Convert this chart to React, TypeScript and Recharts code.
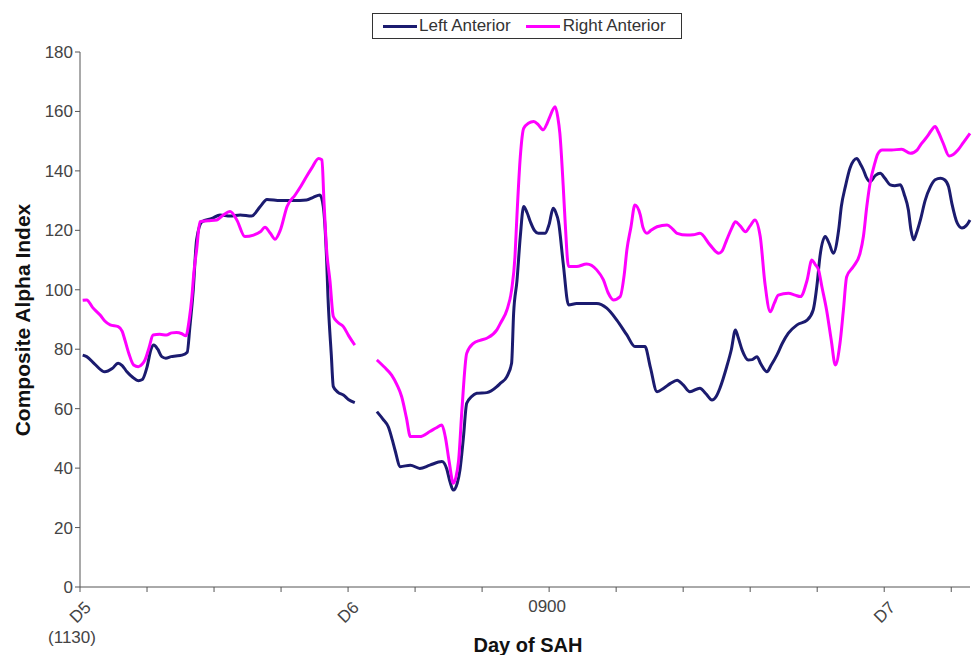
import React from "react";
import { LineChart, Line, XAxis, YAxis, Legend, Label } from "recharts";

// x is measured in axis ticks from D5 (1130)
const leftTime = [
  0.04, 0.1, 0.22, 0.37, 0.48, 0.57, 0.63, 0.7, 0.79, 0.87, 0.93, 1.0, 1.06, 1.1, 1.16, 1.22, 1.28, 1.36,
  1.43, 1.52, 1.6, 1.64, 1.69, 1.74, 1.82, 1.97, 2.09, 2.24, 2.39, 2.56, 2.69, 2.79, 2.99, 3.18, 3.38,
  3.48, 3.58, 3.63, 3.68, 3.7, 3.75, 3.78, 3.85, 3.93, 4.01, 4.1, 4.2, 4.43, 4.52, 4.6, 4.66, 4.7, 4.78,
  4.93, 5.07, 5.22, 5.4, 5.47, 5.52, 5.57, 5.63, 5.67, 5.72, 5.77, 5.84, 5.92, 6.07, 6.22, 6.27, 6.37,
  6.44, 6.47, 6.52, 6.57, 6.62, 6.67, 6.72, 6.78, 6.84, 6.94, 7.0, 7.06, 7.1, 7.14, 7.21, 7.29, 7.41,
  7.55, 7.71, 7.86, 8.01, 8.16, 8.28, 8.43, 8.51, 8.61, 8.71, 8.81, 8.91, 9.0, 9.1, 9.25, 9.34, 9.43,
  9.49, 9.55, 9.65, 9.72, 9.78, 9.82, 9.88, 9.97, 10.03, 10.1, 10.16, 10.25, 10.31, 10.4, 10.48, 10.57,
  10.7, 10.85, 10.94, 11.0, 11.04, 11.12, 11.18, 11.24, 11.32, 11.36, 11.42, 11.49, 11.59, 11.64, 11.69,
  11.73, 11.79, 11.87, 11.94, 12.01, 12.09, 12.16, 12.24, 12.3, 12.36, 12.4, 12.44, 12.48, 12.54, 12.61,
  12.69, 12.76, 12.84, 12.9, 12.96, 13.01, 13.09, 13.16, 13.22, 13.28,
];
const leftValues = [
  78, 77.5, 75, 72.4, 73.5, 75.3, 74.5, 72.4, 70.5, 69.4, 69.8, 74, 80, 81.4, 80, 77.5, 77, 77.5,
  77.7, 78, 79, 87.6, 100, 116.8, 122.9, 124, 125.2, 124.8, 125.2, 124.8, 128, 130.4, 130, 130, 130.2,
  131.1, 131.9, 128, 110, 97.7, 78, 67.4, 65.5, 64.6, 63, 62, null, 59, 56.5, 53.9, 49.5, 46.1, 40.5,
  41, 39.9, 41, 42.2, 39.9, 35.5, 32.6, 35, 39.4, 50, 61.8, 64, 65.2, 65.4, 67.4, 68.5, 70.8,
  75.3, 92, 103, 118, 128, 126, 122.9, 120, 119, 119, 122, 127.4, 126, 122.9, 108.9, 94.9, 95.4,
  95.4, 95.4, 93.8, 89.8, 84.8, 80.9, 80.9, 74, 65.7, 66.9, 68.5, 69.6, 68, 65.7, 66.9, 65, 62.9,
  64, 67, 74.1, 80, 86.5, 84, 79.7, 76.4, 76.5, 77.5, 75, 72.4, 74.5, 78.1, 82, 85.4,
  88.2, 89.8, 93.2, 102.2, 111, 117.9, 115.5, 112.3, 120.1, 128, 134.7, 141, 144.2, 142.5, 140.3,
  138, 136.4, 138.5, 139.2, 137.5, 135.3, 135, 135.3, 132, 126.9, 120, 116.8, 119, 123.5, 130,
  134.7, 137, 137.5, 137, 134.7, 129, 122.4, 120.8, 121.5, 123.5,
];

const rightTime = [
  0.04, 0.1, 0.19, 0.3, 0.37, 0.45, 0.57, 0.63, 0.67, 0.73, 0.8, 0.87, 0.93, 0.97, 1.03, 1.09, 1.19,
  1.29, 1.37, 1.44, 1.52, 1.58, 1.63, 1.67, 1.7, 1.74, 1.79, 1.91, 2.04, 2.13, 2.24, 2.34, 2.46, 2.59,
  2.69, 2.76, 2.84, 2.91, 2.99, 3.09, 3.21, 3.3, 3.38, 3.46, 3.56, 3.61, 3.64, 3.68, 3.73, 3.78, 3.85,
  3.93, 4.01, 4.1, 4.2, 4.43, 4.54, 4.65, 4.73, 4.8, 4.87, 4.93, 5.07, 5.22, 5.31, 5.4, 5.45, 5.51,
  5.57, 5.61, 5.65, 5.7, 5.77, 5.87, 5.97, 6.07, 6.22, 6.28, 6.37, 6.44, 6.49, 6.52, 6.57, 6.62, 6.69,
  6.77, 6.84, 6.91, 6.97, 7.01, 7.09, 7.13, 7.16, 7.21, 7.24, 7.29, 7.41, 7.56, 7.71, 7.81, 7.88, 7.96,
  8.06, 8.12, 8.16, 8.22, 8.28, 8.36, 8.4, 8.46, 8.52, 8.61, 8.76, 8.84, 8.91, 9.06, 9.15, 9.25, 9.4,
  9.53, 9.58, 9.65, 9.72, 9.78, 9.85, 9.93, 10.0, 10.07, 10.15, 10.22, 10.3, 10.36, 10.42, 10.57, 10.67,
  10.75, 10.85, 10.92, 10.97, 11.02, 11.07, 11.14, 11.21, 11.27, 11.34, 11.39, 11.44, 11.54, 11.64,
  11.69, 11.74, 11.79, 11.86, 11.9, 11.97, 12.11, 12.26, 12.39, 12.49, 12.55, 12.64, 12.7, 12.76,
  12.81, 12.88, 12.97, 13.03, 13.1, 13.18, 13.28,
];
const rightValues = [
  96.5, 96.6, 94, 91.5, 89.5, 88.2, 87.6, 86, 83.1, 78.5, 74.7, 74.1, 75, 76.4, 80.5, 84.8, 85,
  84.8, 85.5, 85.6, 85.2, 84.5, 90, 97.7, 106, 113.4, 122.9, 123.2, 123.5, 125, 126.3, 123.5, 117.9, 118.4,
  119.5, 121, 119, 117, 120.1, 128, 131.9, 135, 138.1, 141, 144.2, 143.7, 130, 113.4, 103, 91, 89,
  87.6, 84.5, 81.4, null, 76.4, 74, 71.3, 68, 64, 57, 50.6, 50.6, 52.3, 53.5, 54.5, 50.6, 42,
  34.9, 37, 42.7, 60, 78.6, 82, 83, 83.7, 86.5, 89, 93.2, 99.9, 111, 125, 144.8, 154.3, 156,
  156.6, 155.5, 153.8, 156, 158.2, 161.6, 158, 152.7, 135, 122.4, 107.8, 107.8, 108.7, 106.7, 103.3, 99, 96.6,
  97.7, 105, 113.4, 121, 128.5, 125.2, 121, 119, 120, 121.2, 121.8, 120.5, 119, 118.4, 118.5, 119, 115.1,
  112.3, 113, 116.8, 120.5, 122.9, 121.5, 119.5, 121.5, 123.5, 117.9, 102.2, 92.6, 95.5, 98.2, 98.8, 98.2,
  97.7, 103.3, 110, 108.5, 106.7, 101, 93.2, 83, 74.7, 82, 93, 104.4, 107.8, 112.3,
  118, 128, 136, 142.6, 145.5, 147, 147, 147.3, 145.9, 147, 149, 151.5, 153.5, 154.9,
  153, 149.3, 145, 145.5, 147, 149.5, 152.6,
];

const xTicks = [0, 1, 2, 3, 4, 5, 6, 7, 8, 9, 10, 11, 12, 13];
const yTicks = [0, 20, 40, 60, 80, 100, 120, 140, 160, 180];
const tickNames: Record<number, string> = { 0: "D5", 4: "D6", 7: "0900", 12: "D7" };

const leftData = leftTime.map((t, i) => ({ t, value: leftValues[i] }));
const rightData = rightTime.map((t, i) => ({ t, value: rightValues[i] }));

const NAVY = "#1b1b6f";
const PINK = "#ff00ff";
const FONT = "'Liberation Sans', Arial, sans-serif";
const TICK_FILL = "#444";

const DayTick = ({ x, y, payload }: any) => {
  const name = tickNames[payload.value];
  if (!name) return <g />;
  if (name === "0900") {
    return (
      <text x={x - 2} y={y + 12} dy="0.35em" textAnchor="middle" fill={TICK_FILL} fontSize={17} fontFamily={FONT}>
        {name}
      </text>
    );
  }
  return (
    <g>
      <text
        x={0}
        y={0}
        dy="0.35em"
        textAnchor="middle"
        fill={TICK_FILL}
        fontSize={17}
        fontFamily={FONT}
        transform={`translate(${x},${y + 18}) rotate(-45)`}
      >
        {name}
      </text>
      {name === "D5" && (
        <text x={x - 8} y={y + 43} dy="0.35em" textAnchor="middle" fill={TICK_FILL} fontSize={17} fontFamily={FONT}>
          (1130)
        </text>
      )}
    </g>
  );
};

const LegendBox = () => (
  <div
    style={{
      display: "flex",
      alignItems: "center",
      border: "1px solid #333",
      height: 26,
      boxSizing: "border-box",
      padding: "0 10px 0 10px",
      fontFamily: FONT,
      fontSize: 17,
      color: "#333",
      background: "#fff",
      whiteSpace: "nowrap",
    }}
  >
    <span style={{ width: 34, height: 3, background: NAVY, marginRight: 2 }} />
    <span style={{ marginRight: 15 }}>Left Anterior</span>
    <span style={{ width: 34, height: 3, background: PINK, marginRight: 3 }} />
    <span>Right Anterior</span>
  </div>
);

export default function App() {
  return (
    <div style={{ position: "absolute", left: 0, top: 0, background: "#fff" }}>
      <LineChart width={973} height={655} margin={{ top: 26, right: 3, bottom: 8, left: 0 }}>
        <XAxis
          dataKey="t"
          type="number"
          domain={[0, 13.28]}
          ticks={xTicks}
          interval={0}
          height={60}
          tickSize={5}
          stroke="#555"
          tick={<DayTick />}
        >
          <Label
            content={() => (
              <text x={528} y={645} dy="0.35em" textAnchor="middle" fontSize={20} fontWeight="bold" fontFamily={FONT} fill="#111">
                Day of SAH
              </text>
            )}
          />
        </XAxis>
        <YAxis
          type="number"
          domain={[0, 180]}
          ticks={yTicks}
          interval={0}
          width={80}
          tickSize={5}
          stroke="#555"
          tick={{ fill: TICK_FILL, fontSize: 17, fontFamily: FONT }}
        >
          <Label
            content={() => (
              <text
                x={23}
                y={320}
                dy="0.35em"
                textAnchor="middle"
                fontSize={21}
                fontWeight="bold"
                fontFamily={FONT}
                fill="#111"
                transform="rotate(-90 23 320)"
              >
                Composite Alpha Index
              </text>
            )}
          />
        </YAxis>
        <Legend
          verticalAlign="top"
          content={<LegendBox />}
          wrapperStyle={{ top: 13, left: 372, width: 310 }}
        />
        <Line
          data={leftData}
          dataKey="value"
          name="Left Anterior"
          type="monotone"
          stroke={NAVY}
          strokeWidth={3}
          dot={false}
          isAnimationActive={false}
        />
        <Line
          data={rightData}
          dataKey="value"
          name="Right Anterior"
          type="monotone"
          stroke={PINK}
          strokeWidth={3}
          dot={false}
          isAnimationActive={false}
        />
      </LineChart>
    </div>
  );
}
